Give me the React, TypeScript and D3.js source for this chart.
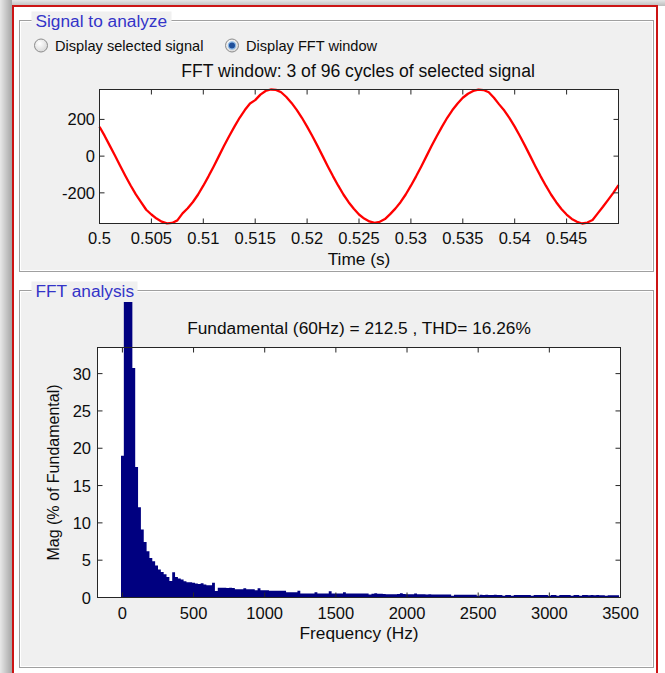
import React from 'react';
import * as d3 from 'd3';

const signalStart = 0.5;
const signalStep = 0.0005;
const signalValues = [
  160, 110, 56, 2, -54, -108, -160, -208, -250, -292,
  -318, -340, -357, -366, -364, -350, -312, -284, -250, -209,
  -161, -110, -56, 0, 56, 110, 161, 209, 251, 287,
  305, 335, 355, 363, 361, 348, 322, 290, 252, 209,
  161, 110, 56, 0, -56, -110, -161, -209, -251, -287,
  -318, -340, -356, -364, -358, -343, -316, -286, -251, -209,
  -161, -110, -56, 0, 56, 110, 161, 209, 251, 287,
  318, 340, 355, 362, 360, 348, 318, 282, 248, 207,
  161, 110, 56, 0, -56, -110, -161, -209, -251, -288,
  -318, -342, -358, -367, -362, -348, -312, -276, -238, -200,
  -158,
];

// FFT magnitude, % of fundamental, one bar per 20 Hz bin starting at 0 Hz
const binWidthHz = 20;
const magnitudes = [
  19.0, 45, 85, 100, 30.75, 17.5, 12.1, 9.1, 7.45, 6.2,
  5.3, 4.86, 4.3, 3.75, 3.43, 3.12, 2.76, 2.22, 3.39, 2.76,
  2.54, 2.41, 2.18, 2.05, 2.05, 1.96, 1.87, 1.8, 1.92, 1.74,
  1.65, 1.65, 1.96, 0.88, 1.29, 1.29, 1.29, 1.28, 1.29, 1.27,
  1.11, 1.11, 1.12, 1.25, 1.11, 1.1, 1.1, 0.98, 1.25, 0.98,
  0.97, 0.97, 0.89, 0.89, 0.89, 0.9, 0.89, 0.89, 0.71, 0.72,
  0.71, 0.71, 0.89, 0.54, 0.55, 0.54, 0.54, 0.54, 0.71, 0.54,
  0.54, 0.54, 0.55, 0.85, 0.54, 0.54, 0.54, 0.54, 0.71, 0.54,
  0.53, 0.54, 0.53, 0.54, 0.53, 0.53, 0.54, 0.40, 0.50, 0.58,
  0.50, 0.50, 0.48, 0.45, 0.45, 0.44, 0.44, 0.46, 0.56, 0.46,
  0.45, 0.44, 0.45, 0.55, 0.44, 0.42, 0.42, 0.41, 0.42, 0.41,
  0.40, 0.41, 0.40, 0.40, 0.41, 0.40, 0.22, 0.36, 0.36, 0.37,
  0.36, 0.36, 0.37, 0.36, 0.36, 0.22, 0.36, 0.35, 0.36, 0.35,
  0.35, 0.36, 0.35, 0.35, 0.24, 0.35, 0.34, 0.25, 0.34, 0.35,
  0.34, 0.34, 0.33, 0.34, 0.24, 0.33, 0.34, 0.33, 0.33, 0.34,
  0.24, 0.33, 0.33, 0.24, 0.33, 0.32, 0.33, 0.32, 0.23, 0.32,
  0.33, 0.23, 0.32, 0.32, 0.31, 0.32, 0.31, 0.32, 0.31, 0.31,
  0.22, 0.31, 0.31, 0.30, 0.30,
];

const timeTicks = [0.5, 0.505, 0.51, 0.515, 0.52, 0.525, 0.53, 0.535, 0.54, 0.545];
const signalTicks = [-200, 0, 200];
const freqTicks = [0, 500, 1000, 1500, 2000, 2500, 3000, 3500];
const magTicks = [0, 5, 10, 15, 20, 25, 30];

const FONT = '"Liberation Sans", Arial, sans-serif';
const TXT = '#0d0d0d';
const PANEL = '#f0f0f0';
const TITLE_BLUE = '#3434c8';

const Panel = ({ x, y, w, h, title, tw }) => (
  <g>
    <rect x={x} y={y} width={w} height={h} fill={PANEL} stroke="#a0a0a0" />
    <rect x={x + 1} y={y + 1} width={w - 2} height={h - 2} fill="none" stroke="#ffffff" />
    <rect x={x + 12} y={y - 9} width={tw} height={18} fill={PANEL} />
    <text x={x + 16} y={y + 6} fill={TITLE_BLUE} fontSize={17.3} fontFamily={FONT}>{title}</text>
  </g>
);

const Radio = ({ cx, cy, checked, label }) => (
  <g>
    <circle cx={cx} cy={cy} r={6.5} fill="url(#radioFill)" stroke="#8c8c8c" />
    {checked && <circle cx={cx} cy={cy} r={3.6} fill="#1f4f9a" stroke="#8ab8e6" strokeWidth={1.2} />}
    <text x={cx + 14} y={cy + 5.2} fill={TXT} fontSize={14.6} fontFamily={FONT}>{label}</text>
  </g>
);

export default function App() {
  // signal plot
  const sL = 99.5, sR = 618.5, sT = 89.5, sB = 223.5;
  const sx = d3.scaleLinear().domain([0.5, 0.55]).range([sL, sR]);
  const sy = d3.scaleLinear().domain(d3.extent(signalValues)).range([sB, sT]);
  const signalLine = d3.line()
    .x((d, i) => sx(signalStart + i * signalStep))
    .y((d) => sy(d));

  // fft plot
  const fL = 97.5, fR = 620.5, fT = 347.5, fB = 597.5;
  const fx = d3.scaleLinear().domain([-175, 3500]).range([fL, fR]);
  const fy = d3.scaleLinear().domain([0, 33.5]).range([fB, fT]);
  const steps = magnitudes.flatMap((m, k) => [
    [k * binWidthHz - binWidthHz / 2, m],
    [k * binWidthHz + binWidthHz / 2, m],
  ]);
  const barArea = d3.area()
    .x((d) => fx(d[0]))
    .y0(fB)
    .y1((d) => fy(d[1]));

  const tick = 5;

  return (
    <svg width={665} height={673} style={{ position: 'absolute', left: 0, top: 0 }} fontFamily={FONT}>
      <defs>
        <linearGradient id="shadowL" x1="0" x2="1" y1="0" y2="0">
          <stop offset="0" stopColor="#e8e8e8" />
          <stop offset="1" stopColor="#a6a6a6" />
        </linearGradient>
        <linearGradient id="shadowT" x1="0" x2="0" y1="0" y2="1">
          <stop offset="0" stopColor="#e6e6e6" />
          <stop offset="1" stopColor="#bdbdbd" />
        </linearGradient>
        <radialGradient id="radioFill" cx="0.4" cy="0.35" r="0.7">
          <stop offset="0" stopColor="#ffffff" />
          <stop offset="1" stopColor="#d6d6d6" />
        </radialGradient>
        <clipPath id="barClip">
          <rect x={fL} y={302} width={fR - fL} height={fB - 302} />
        </clipPath>
      </defs>

      {/* window frame */}
      <rect x={0} y={0} width={665} height={673} fill="#ffffff" />
      <rect x={0} y={0} width={665} height={6} fill="url(#shadowT)" />
      <rect x={0} y={0} width={12} height={673} fill="url(#shadowL)" />
      <rect x={13} y={6} width={644} height={680} fill="#ffffff" stroke="#cc1414" strokeWidth={2} />

      {/* signal panel */}
      <Panel x={19.5} y={20.5} w={634} h={251} title="Signal to analyze" tw={140} />
      <Radio cx={41} cy={45.5} checked={false} label="Display selected signal" />
      <Radio cx={232} cy={45.5} checked={true} label="Display FFT window" />
      <text x={(sL + sR) / 2 - 1} y={77} textAnchor="middle" fill={TXT} fontSize={17.6}>
        FFT window: 3 of 96 cycles of selected signal
      </text>
      <rect x={sL} y={sT} width={sR - sL} height={sB - sT} fill="#ffffff" />
      <path d={signalLine(signalValues)} fill="none" stroke="#ff0000" strokeWidth={2.3} strokeLinejoin="round" />
      <rect x={sL} y={sT} width={sR - sL} height={sB - sT} fill="none" stroke="#262626" />
      {timeTicks.map((t) => (
        <g key={`tt-${t}`}>
          <line x1={sx(t)} x2={sx(t)} y1={sB} y2={sB - tick} stroke="#262626" />
          <line x1={sx(t)} x2={sx(t)} y1={sT} y2={sT + tick} stroke="#262626" />
          <text x={sx(t)} y={243.5} textAnchor="middle" fill={TXT} fontSize={16.5}>{String(t)}</text>
        </g>
      ))}
      {signalTicks.map((v) => (
        <g key={`st-${v}`}>
          <line x1={sL} x2={sL + tick} y1={sy(v)} y2={sy(v)} stroke="#262626" />
          <line x1={sR} x2={sR - tick} y1={sy(v)} y2={sy(v)} stroke="#262626" />
          <text x={95} y={sy(v) + 6} textAnchor="end" fill={TXT} fontSize={16.5}>{v}</text>
        </g>
      ))}
      <text x={(sL + sR) / 2} y={264.5} textAnchor="middle" fill={TXT} fontSize={17.3}>Time (s)</text>

      {/* fft panel */}
      <Panel x={19.5} y={290.5} w={634} h={377} title="FFT analysis" tw={106} />
      <text x={(fL + fR) / 2} y={334} textAnchor="middle" fill={TXT} fontSize={17.3}>
        Fundamental (60Hz) = 212.5 , THD= 16.26%
      </text>
      <rect x={fL} y={fT} width={fR - fL} height={fB - fT} fill="#ffffff" />
      <path d={barArea(steps)} fill="#000080" clipPath="url(#barClip)" />
      <rect x={fL} y={fT} width={fR - fL} height={fB - fT} fill="none" stroke="#262626" />
      {freqTicks.map((f) => (
        <g key={`ft-${f}`}>
          <line x1={fx(f)} x2={fx(f)} y1={fB} y2={fB - tick} stroke="#262626" />
          <line x1={fx(f)} x2={fx(f)} y1={fT} y2={fT + tick} stroke="#262626" />
          <text x={fx(f)} y={618.5} textAnchor="middle" fill={TXT} fontSize={16.5}>{f}</text>
        </g>
      ))}
      {magTicks.map((m) => (
        <g key={`mt-${m}`}>
          <line x1={fL} x2={fL + tick} y1={fy(m)} y2={fy(m)} stroke="#262626" />
          <line x1={fR} x2={fR - tick} y1={fy(m)} y2={fy(m)} stroke="#262626" />
          <text x={91} y={fy(m) + 6} textAnchor="end" fill={TXT} fontSize={16.5}>{m}</text>
        </g>
      ))}
      <text x={(fL + fR) / 2} y={638.5} textAnchor="middle" fill={TXT} fontSize={17.3}>Frequency (Hz)</text>
      <text
        transform={`translate(58.5,${472.5}) rotate(-90)`}
        textAnchor="middle"
        fill={TXT}
        fontSize={16}>
        Mag (% of Fundamental)
      </text>
    </svg>
  );
}
